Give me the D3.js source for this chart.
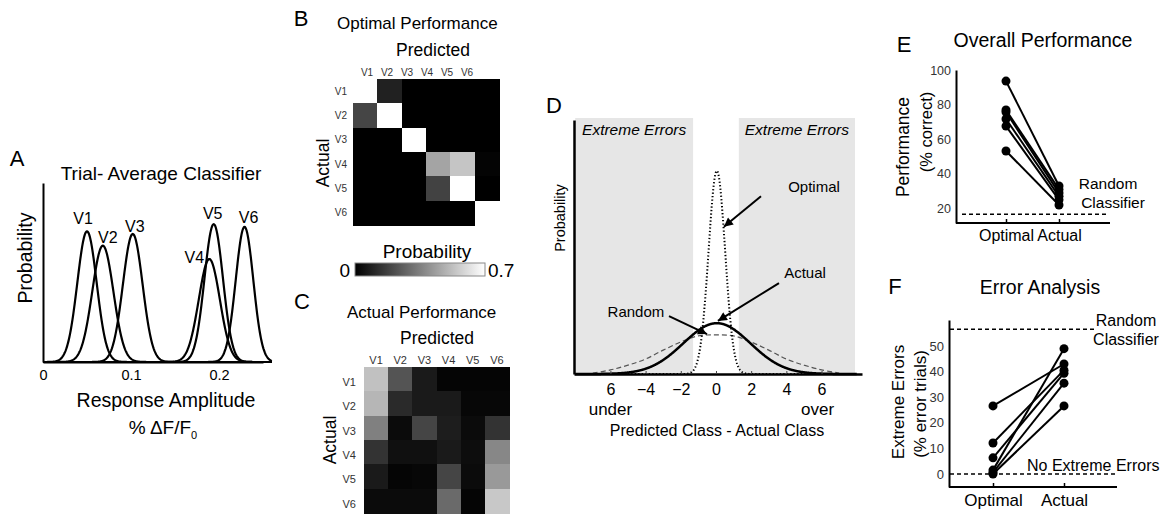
<!DOCTYPE html>
<html>
<head>
<meta charset="utf-8">
<title>Classifier performance</title>
<script src="https://cdn.jsdelivr.net/npm/d3@7/dist/d3.min.js"></script>
<style>
  html, body { margin: 0; padding: 0; background: #fff; }
  svg { display: block; }
  text { font-family: "Liberation Sans", Arial, Helvetica, sans-serif; }
</style>
</head>
<body>
<svg id="fig" width="1168" height="514"></svg>
<script>
// ---------- data ----------
// A: trial-averaged response distributions, one per stimulus class
const classes  = ["V1", "V2", "V3", "V4", "V5", "V6"];
const respMean = [0.050, 0.068, 0.102, 0.189, 0.194, 0.229];
const respSd   = [0.0110, 0.0120, 0.0112, 0.0120, 0.0105, 0.0100];
const respPeak = [0.73, 0.65, 0.715, 0.575, 0.77, 0.755];
const ampTicks = [0, 0.1, 0.2];
const ampTickLabels = ["0", "0.1", "0.2"];

// B, C: confusion matrices (rows = actual class, columns = predicted class)
const optimalConfusion = [
  [0.91, 0.09, 0.00, 0.00, 0.00, 0.00],
  [0.19, 0.81, 0.00, 0.00, 0.00, 0.00],
  [0.00, 0.00, 1.00, 0.00, 0.00, 0.00],
  [0.00, 0.00, 0.00, 0.45, 0.54, 0.01],
  [0.00, 0.00, 0.00, 0.18, 0.82, 0.00],
  [0.00, 0.00, 0.00, 0.00, 0.00, 1.00]
];
const actualConfusion = [
  [0.53, 0.23, 0.07, 0.015, 0.015, 0.015],
  [0.50, 0.115, 0.07, 0.07, 0.02, 0.02],
  [0.35, 0.03, 0.19, 0.08, 0.03, 0.14],
  [0.14, 0.045, 0.045, 0.07, 0.035, 0.37],
  [0.07, 0.015, 0.02, 0.19, 0.03, 0.42],
  [0.03, 0.03, 0.03, 0.29, 0.015, 0.55]
];
const probDomain = [0, 0.7];
const probTickLabels = ["0", "0.7"];

// D: distribution of (predicted class - actual class)
const diffTicks = [-6, -4, -2, 0, 2, 4, 6];
const diffTickLabels = ["6", "\u22124", "\u22122", "0", "2", "4", "6"];
const diffCurves = ["Optimal", "Actual"];
const diffMean = [0.05, 0.05];
const diffSd   = [0.47, 1.9];
const diffPeak = [0.80, 0.20];
const randomDiffX = [-7, -6, -5, -4, -3, -2, -1, 0, 1, 2, 3, 4, 5, 6, 7];
const randomDiffP = [0.004, 0.016, 0.035, 0.059, 0.094, 0.126, 0.150, 0.154,
                     0.150, 0.126, 0.094, 0.059, 0.035, 0.016, 0.004];
const extremeLimit = 1.3;

// E: overall performance (% correct), one pair per animal
const conditions  = ["Optimal", "Actual"];
const perfOptimal = [93.6, 76.9, 75.7, 71.7, 67.6, 53.2];
const perfActual  = [33.0, 31.0, 29.0, 27.0, 25.0, 22.0];
const perfRandom  = 16.7;
const perfTicks   = [20, 40, 60, 80, 100];

// F: extreme errors (% of error trials)
const errOptimal = [26.6, 12.1, 6.3, 1.5, 0.6, 0.0];
const errActual  = [43.0, 40.6, 39.4, 49.0, 35.5, 26.6];
const errRandom  = 56.6;
const errTicks   = [0, 10, 20, 30, 40, 50];

// ---------- helpers ----------
const svg = d3.select("#fig");
const defs = svg.append("defs");

function txt(g, x, y, s, size, o = {}) {
  const t = g.append("text")
    .attr("x", x).attr("y", y).attr("dy", "0.35em")
    .attr("font-size", size)
    .attr("text-anchor", o.anchor || "middle")
    .attr("fill", o.fill || "#000")
    .text(s);
  if (o.italic) t.attr("font-style", "italic");
  if (o.rotate) t.attr("transform", `rotate(-90 ${x} ${y})`);
  return t;
}

const gauss = (x, m, s, p) => p * Math.exp(-0.5 * ((x - m) / s) ** 2);

// panel letters
[["A", 17, 158], ["B", 301, 18], ["C", 302, 301], ["D", 554, 105], ["E", 904, 44], ["F", 895, 286]]
  .forEach(([l, x, y]) => txt(svg, x, y, l, 22));

// ---------- A: trial-average classifier ----------
{
  const g = svg.append("g");
  const x = d3.scaleLinear([0, 0.25], [43, 263]);
  const y = d3.scaleLinear([0, 1], [362, 183]);
  const xs = d3.range(0, 0.2601, 0.0005);
  const line = d3.line().x(d => x(d[0])).y(d => y(d[1]));

  classes.forEach((c, i) => {
    g.append("path")
      .attr("d", line(xs.map(v => [v, gauss(v, respMean[i], respSd[i], respPeak[i])])))
      .attr("fill", "none").attr("stroke", "#000").attr("stroke-width", 2.2);
  });

  // class labels next to each peak
  const nudge = [[-4, -13], [5, -8], [2, -8], [-15, -2], [-1, -11], [4, -9]];
  classes.forEach((c, i) => {
    txt(g, x(respMean[i]) + nudge[i][0], y(respPeak[i]) + nudge[i][1], c, 16);
  });

  g.append("g").attr("transform", `translate(0,${y(0)})`)
    .call(d3.axisBottom(x).tickValues(ampTicks).tickFormat((d, i) => ampTickLabels[i])
      .tickSize(0).tickSizeOuter(0).tickPadding(8))
    .attr("font-size", 14.5)
    .call(a => a.select(".domain").attr("stroke-width", 2));
  g.append("g").attr("transform", `translate(${x(0)},0)`)
    .call(d3.axisLeft(y).tickValues([]).tickSizeOuter(0))
    .call(a => a.select(".domain").attr("stroke-width", 2));

  txt(g, 161, 173, "Trial- Average Classifier", 19);
  txt(g, 25, 258, "Probability", 19.5, { rotate: true });
  txt(g, 166, 400, "Response Amplitude", 19.5);
  const sub = txt(g, 163, 427, "% \u0394F/F", 19);
  sub.append("tspan").attr("font-size", 11).attr("dy", "0.5em").text("0");
}

// ---------- B, C: confusion matrices ----------
const gray = d3.scaleLinear(probDomain, ["#000", "#fff"]).clamp(true);

function drawMatrix(g, m, xr, yr, colLabelRange, colLabelY, rowLabelX, rowLabelDy, fs) {
  const cx = d3.scaleBand(classes, xr);
  const cy = d3.scaleBand(classes, yr);
  m.forEach((row, r) => row.forEach((v, c) => {
    g.append("rect")
      .attr("x", cx(classes[c])).attr("y", cy(classes[r]))
      .attr("width", cx.bandwidth() + 0.5).attr("height", cy.bandwidth() + 0.5)
      .attr("fill", gray(v)).attr("shape-rendering", "crispEdges");
  }));
  const lx = colLabelRange ? d3.scalePoint(classes, colLabelRange) : (c => cx(c) + cx.bandwidth() / 2);
  classes.forEach(c => {
    txt(g, lx(c), colLabelY, c, fs, { fill: "#333" });
    txt(g, rowLabelX, cy(c) + cy.bandwidth() / 2 + rowLabelDy, c, fs, { fill: "#333", anchor: "end" });
  });
}

{
  const g = svg.append("g");
  txt(g, 337, 23, "Optimal Performance", 17, { anchor: "start" });
  txt(g, 433, 50, "Predicted", 17.5);
  txt(g, 323, 163, "Actual", 17.5, { rotate: true });
  drawMatrix(g, optimalConfusion, [353, 499], [79, 225], [367, 467], 72, 347, 0, 10);

  // colour bar
  const grad = defs.append("linearGradient").attr("id", "probGrad");
  grad.append("stop").attr("offset", "0%").attr("stop-color", gray(probDomain[0]));
  grad.append("stop").attr("offset", "100%").attr("stop-color", gray(probDomain[1]));
  const cb = d3.scaleLinear(probDomain, [355, 485]);
  g.append("rect").attr("x", cb(probDomain[0])).attr("y", 263)
    .attr("width", cb(probDomain[1]) - cb(probDomain[0])).attr("height", 13)
    .attr("fill", "url(#probGrad)").attr("stroke", "#888").attr("stroke-width", 1);
  txt(g, cb(probDomain[0]) - 5, 270, probTickLabels[0], 19, { anchor: "end" });
  txt(g, cb(probDomain[1]) + 3, 270, probTickLabels[1], 19, { anchor: "start" });
  txt(g, 427, 251, "Probability", 19);
}

{
  const g = svg.append("g");
  txt(g, 347, 312, "Actual Performance", 17, { anchor: "start" });
  txt(g, 437, 338, "Predicted", 17.5);
  txt(g, 330, 440, "Actual", 17.5, { rotate: true });
  drawMatrix(g, actualConfusion, [364, 509], [367, 513], null, 360, 356, 3, 11);
}

// ---------- D: error distribution ----------
{
  const g = svg.append("g");
  const x = d3.scaleLinear([-8.07, 8.3], [574, 862]);
  const y = d3.scaleLinear([0, 1], [374, 120]);

  // shaded extreme-error zones
  const top = y(1) - 2;
  [[-8.0, -extremeLimit], [extremeLimit, 7.9]].forEach(([a, b]) => {
    g.append("rect").attr("x", x(a)).attr("y", top)
      .attr("width", x(b) - x(a)).attr("height", y(0) - top)
      .attr("fill", "#e6e6e6");
    txt(g, (x(a) + x(b)) / 2, 130, "Extreme Errors", 15.5, { italic: true });
  });

  const xs = d3.range(-8, 8.0001, 0.02);
  const line = d3.line().x(d => x(d[0])).y(d => y(d[1]));

  // random classifier
  g.append("path")
    .attr("d", d3.line().curve(d3.curveCardinal).x((d, i) => x(randomDiffX[i])).y(d => y(d))(randomDiffP))
    .attr("fill", "none").attr("stroke", "#555").attr("stroke-width", 1.2)
    .attr("stroke-dasharray", "5,3");
  // optimal (dotted) and actual (solid)
  diffCurves.forEach((c, i) => {
    const p = g.append("path")
      .attr("d", line(xs.map(v => [v, gauss(v, diffMean[i], diffSd[i], diffPeak[i])])))
      .attr("fill", "none").attr("stroke", "#000");
    if (c === "Optimal") p.attr("stroke-width", 2).attr("stroke-dasharray", "1.3,2.2");
    else p.attr("stroke-width", 2.5);
  });

  // axes
  g.append("g").attr("transform", `translate(0,${y(0)})`)
    .call(d3.axisBottom(x).tickValues(diffTicks).tickFormat((d, i) => diffTickLabels[i])
      .tickSizeInner(-3).tickSizeOuter(0).tickPadding(10))
    .attr("font-size", 16)
    .call(a => a.select(".domain").attr("stroke-width", 2.5))
    .call(a => a.selectAll(".tick line").attr("stroke", "#444"));
  g.append("g").attr("transform", `translate(${x(-8.07)},0)`)
    .call(d3.axisLeft(y).tickValues([]).tickSizeOuter(0))
    .call(a => a.select(".domain").attr("stroke-width", 2.5));

  txt(g, x(-6), 409, "under", 17);
  txt(g, x(6) - 4, 409, "over", 17);
  txt(g, 717, 430, "Predicted Class - Actual Class", 16);
  txt(g, 560, 218, "Probability", 14.5, { rotate: true });

  // annotations
  defs.append("marker").attr("id", "arrowhead")
    .attr("viewBox", "0 0 10 10").attr("refX", 10).attr("refY", 5)
    .attr("markerWidth", 11).attr("markerHeight", 9)
    .attr("markerUnits", "userSpaceOnUse").attr("orient", "auto")
    .append("path").attr("d", "M0,0L10,5L0,10z").attr("fill", "#000");
  const notes = [
    { text: "Optimal", lx: 5.57, ly: 0.736, from: [2.56, 0.70], to: [0.45, 0.58] },
    { text: "Actual",  lx: 5.06, ly: 0.398, from: [3.58, 0.358], to: [0.11, 0.209] },
    { text: "Random",  lx: -4.55, ly: 0.244, from: [-2.67, 0.228], to: [-0.51, 0.157] }
  ];
  notes.forEach(n => {
    txt(g, x(n.lx), y(n.ly), n.text, 15);
    g.append("line")
      .attr("x1", x(n.from[0])).attr("y1", y(n.from[1]))
      .attr("x2", x(n.to[0])).attr("y2", y(n.to[1]))
      .attr("stroke", "#000").attr("stroke-width", 2)
      .attr("marker-end", "url(#arrowhead)");
  });
}

// ---------- E, F: paired comparisons ----------
function pairedPanel(g, o) {
  const x = d3.scalePoint(conditions, o.xTicks);
  const y = d3.scaleLinear(o.yDomain, o.yRange);

  // reference lines
  o.refs.forEach(r => {
    g.append("line")
      .attr("x1", r.x1).attr("x2", r.x2).attr("y1", y(r.v)).attr("y2", y(r.v))
      .attr("stroke", "#000").attr("stroke-width", 1.5).attr("stroke-dasharray", "4,3");
  });

  // axes
  g.append("g").attr("transform", `translate(${o.axisX},0)`)
    .call(d3.axisLeft(y).tickValues(o.ticks).tickSize(0).tickSizeOuter(0).tickPadding(5))
    .attr("font-size", o.tickFs)
    .call(a => a.selectAll("text").attr("fill", "#333"))
    .call(a => a.select(".domain").attr("stroke-width", 2));
  g.append("line")
    .attr("x1", o.axisX).attr("x2", o.axisEnd).attr("y1", y(o.yDomain[0])).attr("y2", y(o.yDomain[0]))
    .attr("stroke", "#000").attr("stroke-width", 2);
  g.append("g").attr("transform", `translate(0,${y(o.yDomain[0])})`)
    .call(d3.axisBottom(x).tickSizeInner(-4).tickSizeOuter(0).tickPadding(7))
    .attr("font-size", o.xFs)
    .call(a => a.select(".domain").remove())
    .call(a => a.selectAll(".tick line").attr("stroke-width", 1.5));

  // paired lines and points
  o.a.forEach((v, i) => {
    g.append("line")
      .attr("x1", x(conditions[0])).attr("y1", y(v))
      .attr("x2", x(conditions[1])).attr("y2", y(o.b[i]))
      .attr("stroke", "#000").attr("stroke-width", 2);
  });
  [o.a, o.b].forEach((vals, k) => vals.forEach(v => {
    g.append("circle").attr("cx", x(conditions[k])).attr("cy", y(v)).attr("r", 4.5).attr("fill", "#000");
  }));
  return y;
}

{
  const g = svg.append("g");
  pairedPanel(g, {
    xTicks: [1006, 1059], yDomain: [11.6, 100], yRange: [223, 70],
    axisX: 956, axisEnd: 1110, ticks: perfTicks, tickFs: 12.5, xFs: 16,
    a: perfOptimal, b: perfActual,
    refs: [{ v: perfRandom, x1: 962, x2: 1107 }]
  });
  txt(g, 1043, 40, "Overall Performance", 19.5);
  txt(g, 903, 147, "Performance", 17.5, { rotate: true });
  txt(g, 926, 132, "(% correct)", 16.5, { rotate: true });
  txt(g, 1108, 184, "Random", 15.5);
  txt(g, 1113, 203, "Classifier", 15.5);
}

{
  const g = svg.append("g");
  pairedPanel(g, {
    xTicks: [993, 1064], yDomain: [-5.1, 60.2], yRange: [487, 320],
    axisX: 949, axisEnd: 1117, ticks: errTicks, tickFs: 13, xFs: 17,
    a: errOptimal, b: errActual,
    refs: [{ v: errRandom, x1: 950, x2: 1097 }, { v: 0, x1: 950, x2: 1117 }]
  });
  txt(g, 1040, 287, "Error Analysis", 19.5);
  txt(g, 898, 402, "Extreme Errors", 17, { rotate: true });
  txt(g, 920, 404, "(% error trials)", 17, { rotate: true });
  txt(g, 1126, 320, "Random", 16);
  txt(g, 1126, 339, "Classifier", 16);
  txt(g, 1027, 465, "No Extreme Errors", 16, { anchor: "start" });
}
</script>
</body>
</html>
